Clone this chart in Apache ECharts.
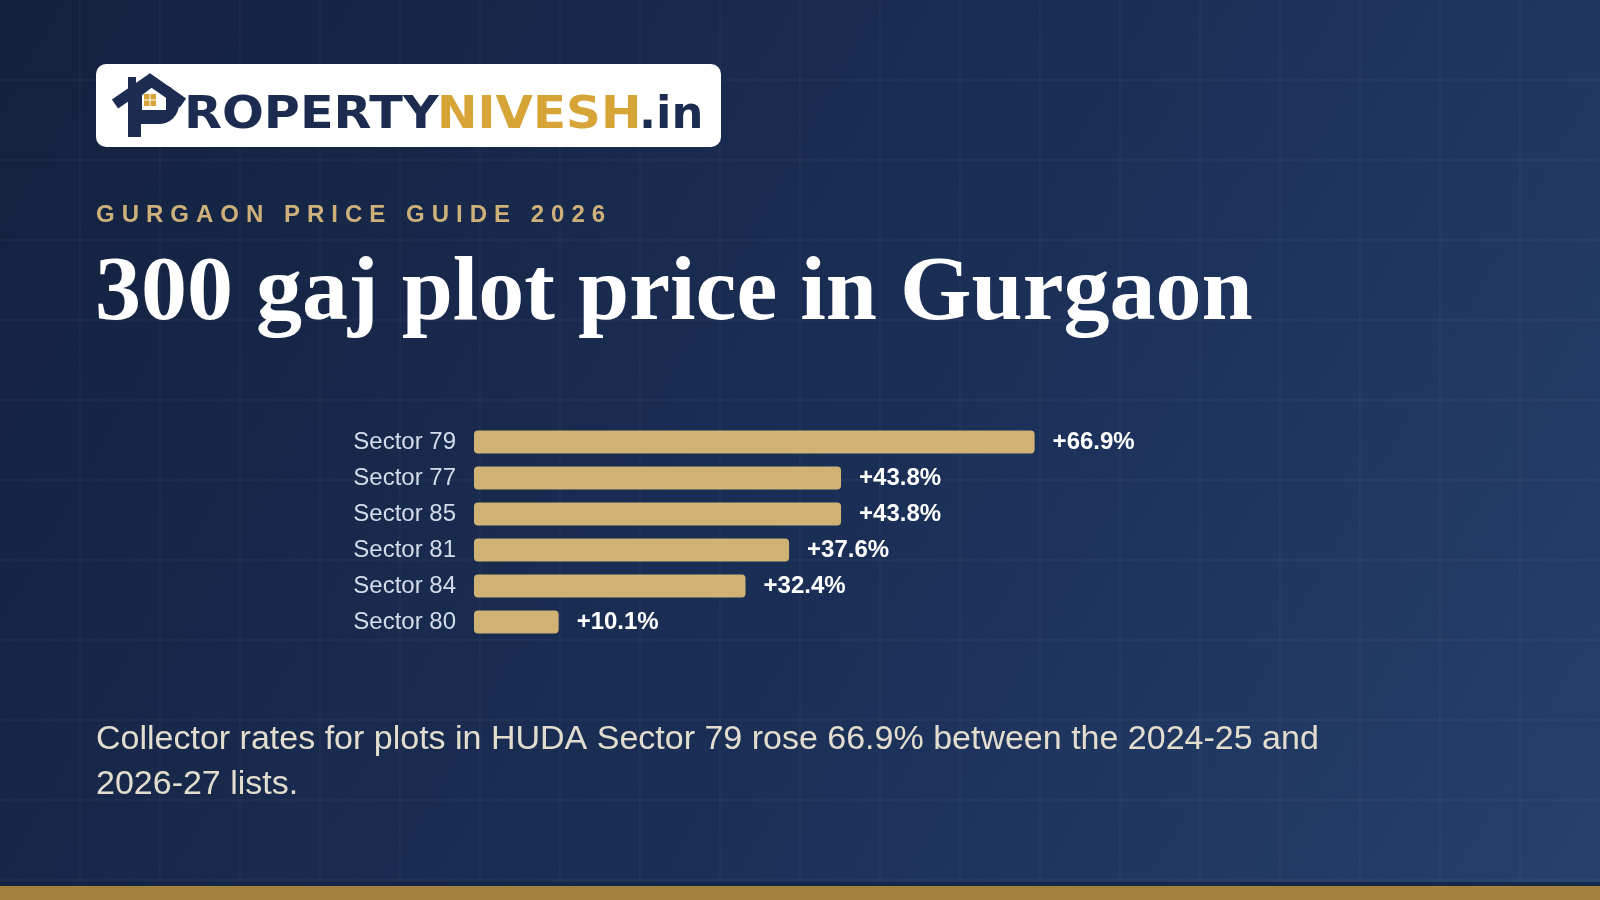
<!DOCTYPE html>
<html>
<head>
<meta charset="utf-8">
<title>300 gaj plot price in Gurgaon</title>
<script src="https://cdn.jsdelivr.net/npm/echarts@6/dist/echarts.min.js"></script>
<style>
    html, body { margin: 0; padding: 0; }
    #chart { width: 1600px; height: 900px; }
</style>
</head>
<body>
<div id="chart"></div>
<script>
// data
const sectors = ['Sector 79', 'Sector 77', 'Sector 85', 'Sector 81', 'Sector 84', 'Sector 80'];
const growth = [66.9, 43.8, 43.8, 37.6, 32.4, 10.1];

const kicker = 'GURGAON PRICE GUIDE 2026';
const headline = '300 gaj plot price in Gurgaon';
const blurb = [
    'Collector rates for plots in HUDA Sector 79 rose 66.9% between the 2024-25 and',
    '2026-27 lists.'
];

const navy = '#1c2b50';
const gold = '#d6a437';
const sans = '"Liberation Sans", Arial, sans-serif';

// faint background grid, every 80px
let gridLines = [];
for (let x = 80; x < 1600; x += 80) {
    gridLines.push({
        type: 'line', z: -90, silent: true,
        shape: { x1: x, y1: 0, x2: x, y2: 886 },
        style: { stroke: 'rgba(255,255,255,0.055)', lineWidth: 1 }
    });
}
for (let y = 80; y < 886; y += 80) {
    gridLines.push({
        type: 'line', z: -90, silent: true,
        shape: { x1: 0, y1: y, x2: 1600, y2: y },
        style: { stroke: 'rgba(255,255,255,0.055)', lineWidth: 1 }
    });
}

// kicker is letter-spaced, so lay it out one char at a time
const kickerFont = 'bold 24px ' + sans;
const kickerSpacing = 7.0;
let ctx = document.createElement('canvas').getContext('2d');
ctx.font = kickerFont;
let kickerChars = [];
let cx = 96;
kicker.split('').forEach((ch) => {
    kickerChars.push({
        type: 'text', z: 5,
        style: { text: ch, x: cx, y: 215, fill: '#cdb07a', font: kickerFont, textVerticalAlign: 'middle' }
    });
    cx += ctx.measureText(ch).width + kickerSpacing;
});

// wordmark pieces, stretched a bit to mimic the wide geometric logo face
function word(txt, x, color, sx) {
    return {
        type: 'text', z: 8, x: x, y: 117, scaleX: sx,
        style: { text: txt, x: 0, y: 0, fill: color, font: 'bold 44px "DejaVu Sans"', textVerticalAlign: 'middle' }
    };
}

// logo: white card, house-shaped P, wordmark
const logo = [
    { type: 'rect', z: 5, shape: { x: 96, y: 64, width: 625, height: 83, r: 10 }, style: { fill: '#ffffff' } },
    { type: 'rect', z: 6, shape: { x: 128, y: 77, width: 8, height: 16 }, style: { fill: navy } },
    { type: 'rect', z: 6, shape: { x: 128, y: 88, width: 13, height: 49 }, style: { fill: navy } },
    { type: 'rect', z: 6, shape: { x: 140, y: 84, width: 39, height: 40, r: [0, 20, 20, 0] }, style: { fill: navy } },
    { type: 'polygon', z: 7, shape: { points: [[142, 110], [142, 95], [154, 86], [166, 95], [166, 110]] }, style: { fill: '#ffffff' } },
    { type: 'polyline', z: 8, shape: { points: [[115, 104], [150, 80], [183, 103]] }, style: { stroke: navy, lineWidth: 11, lineJoin: 'miter', fill: null } },
    { type: 'rect', z: 8, shape: { x: 144, y: 94, width: 5.5, height: 5.5 }, style: { fill: gold } },
    { type: 'rect', z: 8, shape: { x: 150.5, y: 94, width: 5.5, height: 5.5 }, style: { fill: gold } },
    { type: 'rect', z: 8, shape: { x: 144, y: 100.5, width: 5.5, height: 5.5 }, style: { fill: gold } },
    { type: 'rect', z: 8, shape: { x: 150.5, y: 100.5, width: 5.5, height: 5.5 }, style: { fill: gold } },
    word('ROPERTY', 184, navy, 1.12),
    word('NIVESH', 437, gold, 1.10),
    word('.in', 639, navy, 1.02),
];

const texts = [
    ...kickerChars,
    { type: 'text', z: 5, style: { text: headline, x: 95, y: 295, fill: '#ffffff', font: 'bold 92px "Liberation Serif", "Times New Roman", serif', textVerticalAlign: 'middle' } },
    { type: 'text', z: 5, style: { text: blurb[0], x: 96, y: 740, fill: '#e3ddcf', font: '34px ' + sans, textVerticalAlign: 'middle' } },
    { type: 'text', z: 5, style: { text: blurb[1], x: 96, y: 785, fill: '#e3ddcf', font: '34px ' + sans, textVerticalAlign: 'middle' } },
];

const option = {
    animation: false,
    graphic: {
        elements: [
            {
                type: 'rect', z: -100, silent: true,
                shape: { x: 0, y: 0, width: 1600, height: 900 },
                style: {
                    fill: new echarts.graphic.LinearGradient(0, 0, 1, 1, [
                        { offset: 0, color: '#13213e' },
                        { offset: 0.55, color: '#1b2f56' },
                        { offset: 1, color: '#25416d' }
                    ])
                }
            },
            ...gridLines,
            { type: 'rect', z: -80, shape: { x: 0, y: 882, width: 1600, height: 4 }, style: { fill: 'rgba(20,35,65,0.8)' } },
            { type: 'rect', z: -80, shape: { x: 0, y: 886, width: 1600, height: 14 }, style: { fill: '#a2803d' } },
            ...logo,
            ...texts,
        ]
    },
    grid: {
        left: 474,
        top: 424,
        width: 838,
        height: 216,
        containLabel: false
    },
    xAxis: {
        type: 'value',
        min: 0,
        max: 100,
        show: false
    },
    yAxis: {
        type: 'category',
        data: sectors,
        inverse: true,
        axisLine: { show: false },
        axisTick: { show: false },
        splitLine: { show: false },
        axisLabel: {
            margin: 18,
            color: '#d3dcea',
            fontSize: 24,
            fontFamily: sans
        }
    },
    series: [{
        type: 'bar',
        data: growth,
        barWidth: 23,
        itemStyle: {
            color: '#cfb274',
            borderRadius: 4
        },
        label: {
            show: true,
            position: 'right',
            distance: 18,
            color: '#ffffff',
            fontSize: 24,
            fontWeight: 'bold',
            fontFamily: sans,
            formatter: (p) => '+' + p.value.toFixed(1) + '%'
        }
    }]
};

let myChart = echarts.init(document.getElementById('chart'));
myChart.setOption(option);
window.addEventListener('resize', myChart.resize);
</script>
</body>
</html>
